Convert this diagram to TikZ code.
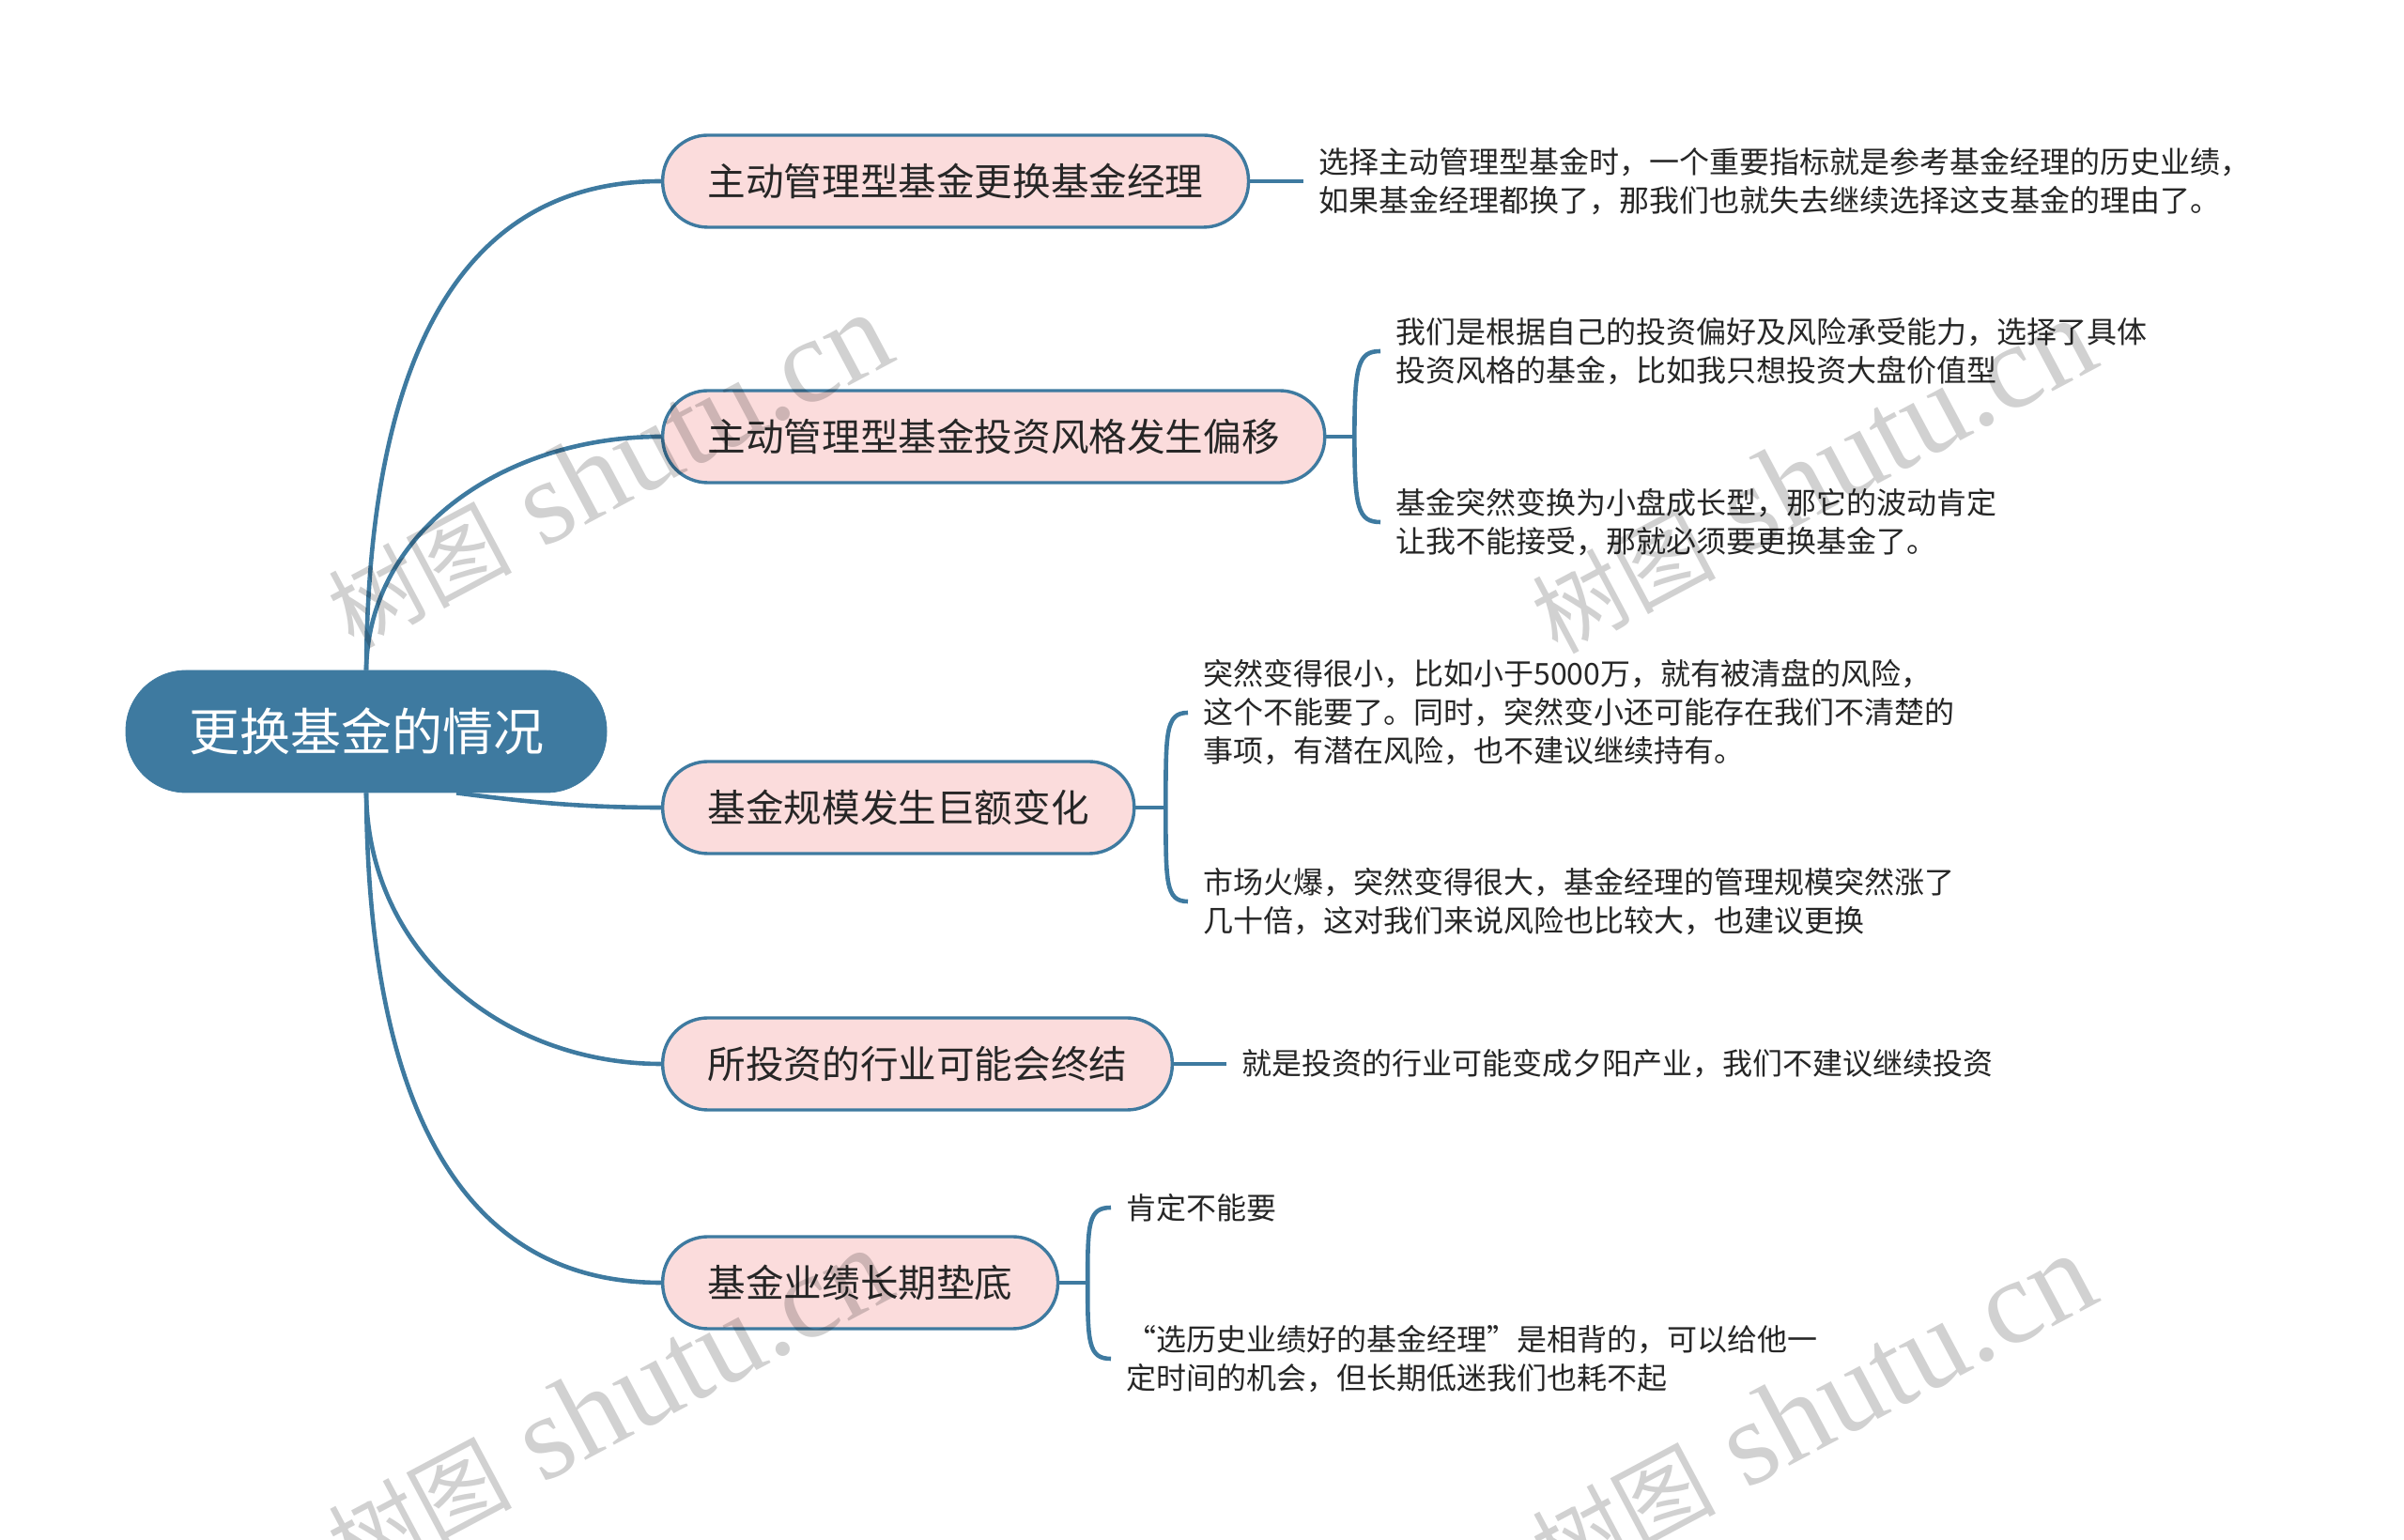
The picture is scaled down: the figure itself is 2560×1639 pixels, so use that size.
\documentclass[tikz,border=0pt]{standalone}
\usepackage{fontspec}
\setmainfont{Noto Sans CJK SC}
\newfontfamily\cjk{Noto Sans CJK SC}
\newfontfamily\wmfont{Liberation Serif}
\definecolor{linec}{HTML}{3E7AA0}
\definecolor{pinkc}{HTML}{FBDCDC}
\begin{document}
\begin{tikzpicture}[x=.5pt,y=.5pt,
  rootbox/.style={draw=linec,fill=linec,text=white,rounded corners=32pt,minimum width=256pt,minimum height=65pt,font=\fontsize{27pt}{32pt}\selectfont},
  topic/.style={draw=linec,line width=1.7pt,fill=pinkc,rounded corners=24pt,minimum height=49pt,inner xsep=24pt,anchor=west,text=black!85,font=\fontsize{20.3pt}{24pt}\selectfont},
  leaf/.style={anchor=west,align=left,inner xsep=8pt,inner ysep=0pt,text=black!85,font=\fontsize{16pt}{20.5pt}\selectfont},
  link/.style={draw=linec,line width=2.3pt},
  wmark/.style={rotate=28,text=black,text opacity=.18,font=\wmfont\fontsize{64pt}{70pt}\selectfont}]
\useasboundingbox (0,0) rectangle (2560,1639);
% root and topics
\node[rootbox] (root) at (390,860) {更换基金的情况};
\node[topic] (b1) at (704,1446) {主动管理型基金更换基金经理};
\node[topic] (b2) at (704,1174) {主动管理型基金投资风格发生偏移};
\node[topic] (b3) at (704,779) {基金规模发生巨额变化};
\node[topic] (b4) at (704,506) {所投资的行业可能会终结};
\node[topic] (b5) at (704,273) {基金业绩长期垫底};
\draw[link] (root.north) .. controls (392,1239) and (480,1446) .. (b1.west);
\draw[link] (root.north) .. controls (392,1075) and (539,1174) .. (b2.west);
\draw[link] ([xshift=48pt]root.south) .. controls (560,785) and (620,779) .. (b3.west);
\draw[link] (root.south) .. controls (392,621) and (539,506) .. (b4.west);
\draw[link] (root.south) .. controls (392,482) and (480,273) .. (b5.west);
% details
\node[leaf] (l1) at (1388,1446) {选择主动管理型基金时，一个重要指标就是参考基金经理的历史业绩，\\如果基金经理都换了，那我们也就失去继续选择这支基金的理由了。};
\draw[link] (b1.east) -- (l1.west);
\node[leaf] (l2a) at (1470,1265) {我们是根据自己的投资偏好及风险承受能力，选择了具体\\投资风格的基金，比如我只想投资大盘价值型};
\node[leaf] (l2b) at (1470,1083) {基金突然变换为小盘成长型，那它的波动肯定\\让我不能接受，那就必须要更换基金了。};
\coordinate (k2) at ([xshift=15pt]b2.east);
\draw[link] (b2.east) -- (k2);
\draw[link] (k2) .. controls ([yshift=38pt]k2) and ([xshift=-12pt]l2a.west) .. (l2a.west);
\draw[link] (k2) .. controls ([yshift=-38pt]k2) and ([xshift=-12pt]l2b.west) .. (l2b.west);
\node[leaf] (l3a) at (1265,880) {突然变得很小，比如小于5000万，就有被清盘的风险，\\这个不能要了。同时，突然变小还可能存在我们不清楚的\\事项，有潜在风险，也不建议继续持有。};
\node[leaf] (l3b) at (1265,679) {市场火爆，突然变得很大，基金经理的管理规模突然涨了\\几十倍，这对我们来说风险也比较大，也建议更换};
\coordinate (k3) at ([xshift=16pt]b3.east);
\draw[link] (b3.east) -- (k3);
\draw[link] (k3) .. controls ([yshift=40pt]k3) and ([xshift=-12pt]l3a.west) .. (l3a.west);
\draw[link] (k3) .. controls ([yshift=-40pt]k3) and ([xshift=-12pt]l3b.west) .. (l3b.west);
\node[leaf] (l4) at (1306,506) {就是投资的行业可能变成夕阳产业，我们不建议继续投资};
\draw[link] (b4.east) -- (l4.west);
\node[leaf] (l5a) at (1183,353) {肯定不能要};
\node[leaf] (l5b) at (1183,192) {“选历史业绩好的基金经理”是相背的，可以给他一\\定时间的机会，但长期低迷我们也耗不起};
\coordinate (k5) at ([xshift=15pt]b5.east);
\draw[link] (b5.east) -- (k5);
\draw[link] (k5) .. controls ([yshift=32pt]k5) and ([xshift=-12pt]l5a.west) .. (l5a.west);
\draw[link] (k5) .. controls ([yshift=-32pt]k5) and ([xshift=-12pt]l5b.west) .. (l5b.west);
% watermarks
\node[wmark] (w1) at (648,1138) {{\cjk\fontsize{49pt}{55pt}\selectfont 树图} shutu.cn};
\node[wmark] (w2) at (1930,1132) {{\cjk\fontsize{49pt}{55pt}\selectfont 树图} shutu.cn};
\node[wmark] (w3) at (648,142) {{\cjk\fontsize{49pt}{55pt}\selectfont 树图} shutu.cn};
\node[wmark] (w4) at (1930,136) {{\cjk\fontsize{49pt}{55pt}\selectfont 树图} shutu.cn};
\end{tikzpicture}
\end{document}
